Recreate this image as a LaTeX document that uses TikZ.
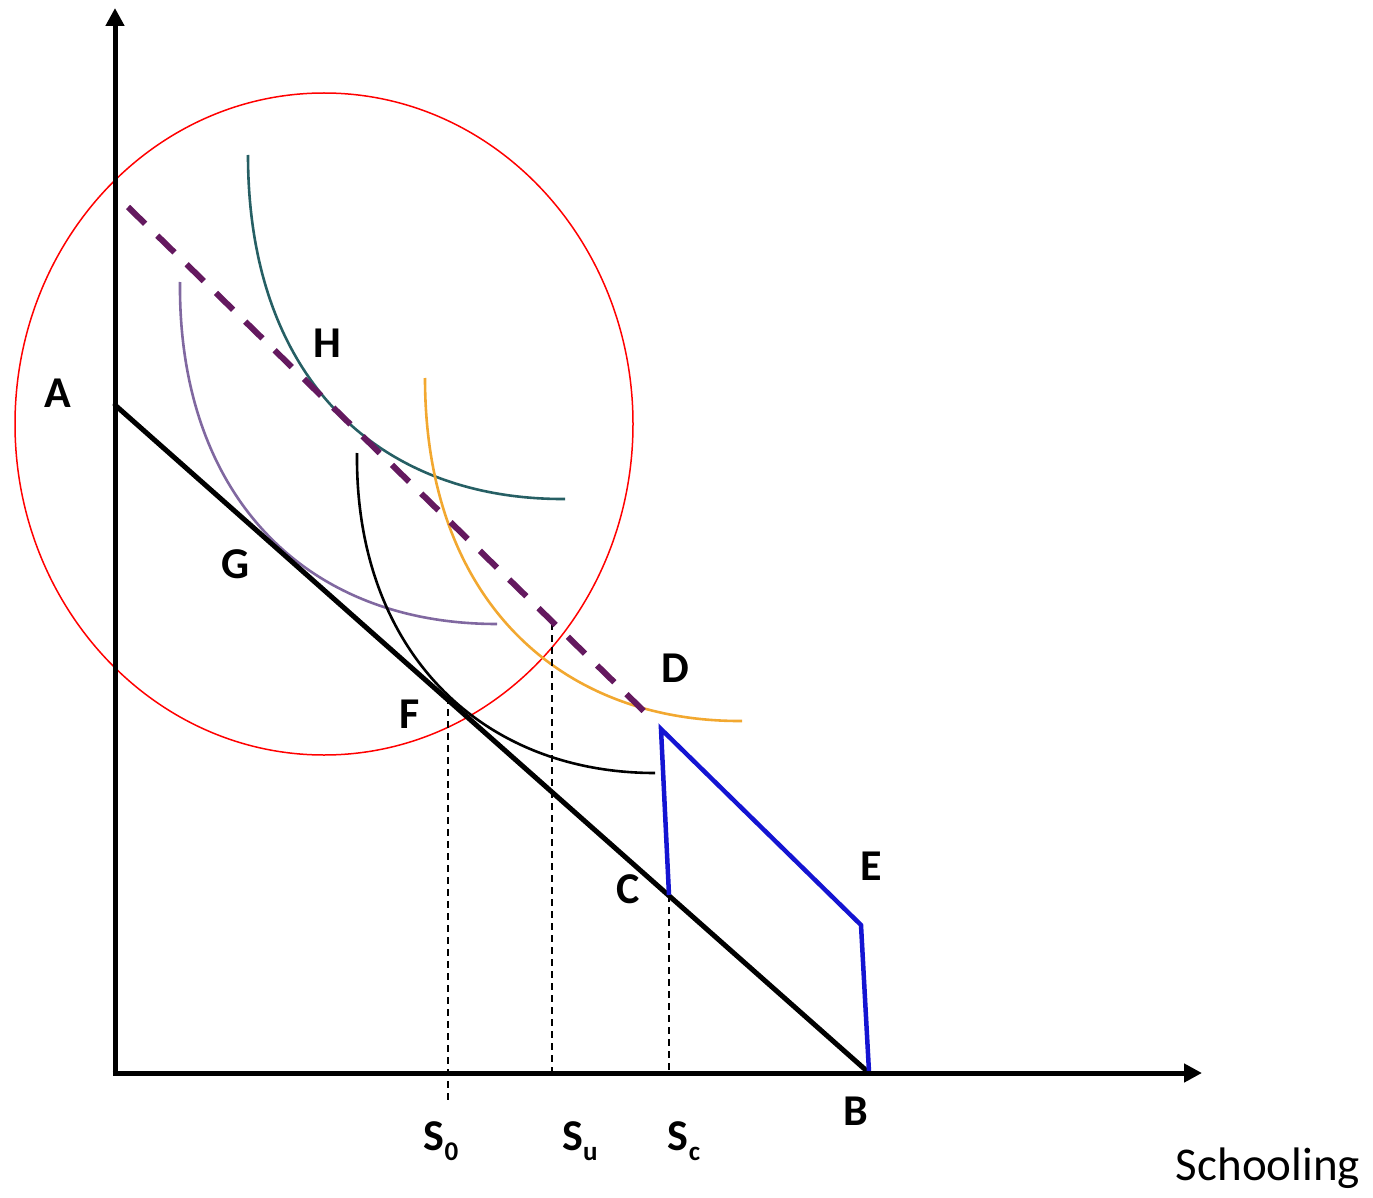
\documentclass[tikz,border=0pt]{standalone}
\usepackage{fontspec}
\setmainfont{Carlito}
\usetikzlibrary{arrows.meta}
\definecolor{icteal}{RGB}{38,95,100}
\definecolor{iclav}{RGB}{128,104,160}
\definecolor{icorange}{RGB}{242,168,48}
\definecolor{dashpurple}{RGB}{100,25,95}
\definecolor{kblue}{RGB}{20,20,210}
\tikzset{
  axis/.style={line width=5pt, -{Triangle[length=18pt,width=18pt]}},
  budget/.style={line width=5pt, line cap=round},
  bluebudget/.style={kblue, line width=4.5pt, line join=miter},
  icurve/.style={line width=2.6pt},
  dashbudget/.style={dashpurple, line width=6pt, dash pattern=on 24pt off 17pt},
  guide/.style={line width=1.5pt, dash pattern=on 7pt off 5pt},
  lbl/.style={font=\bfseries\fontsize{44}{44}\selectfont, inner sep=0pt, anchor=base}
}
\newcommand{\mysub}[1]{\raisebox{-10pt}{\fontsize{27}{27}\selectfont #1}}
\begin{document}
\begin{tikzpicture}[x=1pt,y=-1pt]
\useasboundingbox (0,0) rectangle (1373,1198);
% key points
\coordinate (O) at (115,1073);
\coordinate (Ytop) at (115,8);
\coordinate (Xend) at (1202,1073);
\coordinate (A) at (115,405);
\coordinate (B) at (868,1072);
\coordinate (C) at (669,895);
\coordinate (D) at (661,729);
\coordinate (E) at (861,925);
\coordinate (Bb) at (869,1072);
\coordinate (P1) at (128,207);
\coordinate (P2) at (655,722);
\coordinate (S0top) at (448,697);
\coordinate (S0bot) at (448,1100);
\coordinate (Sutop) at (552,623);
\coordinate (Subot) at (552,1073);
\coordinate (Sctop) at (669,895);
\coordinate (Scbot) at (669,1073);
% red ellipse
\draw[red, line width=1.5pt] (324,424) ellipse [x radius=309pt, y radius=331pt];
% indifference curves
\draw[icurve, icteal] (248,155) .. controls (248,380) and (380,500) .. (565,499);
\draw[icurve, iclav] (180,282) .. controls (178,490) and (300,624) .. (497,624);
\draw[icurve, black] (357,453) .. controls (355,650) and (480,773) .. (655,773);
\draw[icurve, icorange] (425,378) .. controls (425,600) and (560,722) .. (742,721);
% guides
\draw[guide] (S0top) -- (S0bot);
\draw[guide] (Sutop) -- (Subot);
\draw[guide] (Sctop) -- (Scbot);
% dashed budget
\draw[dashbudget] (P1) -- (P2);
% budget line
\draw[budget] (A) -- (B);
% blue kinked budget
\draw[bluebudget] (C) -- (D) -- (E) -- (Bb);
% axes
\draw[axis] (O) -- (Ytop);
\draw[axis] ([xshift=-2.5pt]O) -- (Xend);
% labels
\node[lbl] (lA) at (58,407) {A};
\node[lbl] (lH) at (327,357) {H};
\node[lbl] (lG) at (236,578) {G};
\node[lbl] (lF) at (410,728) {F};
\node[lbl] (lD) at (675,682) {D};
\node[lbl] (lC) at (628,903) {C};
\node[lbl] (lE) at (871,880) {E};
\node[lbl] (lB) at (856,1125) {B};
\node[lbl] (lS0) at (441,1150) {S\mysub{0}};
\node[lbl] (lSu) at (580,1150) {S\mysub{u}};
\node[lbl] (lSc) at (684,1150) {S\mysub{c}};
\node[inner sep=0pt, anchor=base, font=\fontsize{47}{47}\selectfont] (lSch) at (1268,1180) {Schooling};
\end{tikzpicture}
\end{document}
